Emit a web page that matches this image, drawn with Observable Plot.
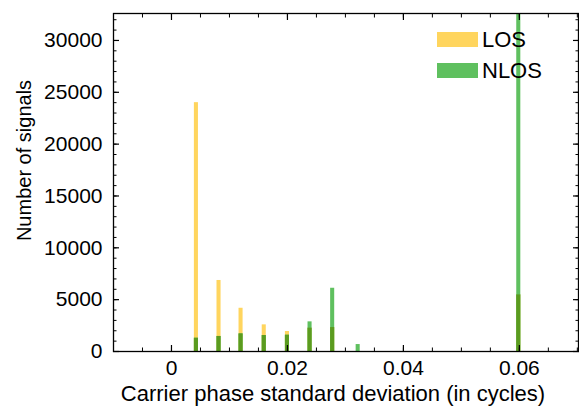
<!DOCTYPE html>
<html>
<head>
<meta charset="utf-8">
<script src="https://cdn.jsdelivr.net/npm/d3@7"></script>
<script src="https://cdn.jsdelivr.net/npm/@observablehq/plot@0.6"></script>
<style>
  html, body { margin: 0; padding: 0; background: #fff; }
  #wrap { position: relative; width: 579px; height: 407px; font-family: "Liberation Sans", Arial, sans-serif; }
  #legend { position: absolute; left: 437px; top: 24px; }
  .item { display: flex; align-items: center; height: 31px; font-size: 22px; color: #000; }
  .sw { width: 41px; height: 15px; margin-right: 4px; }
</style>
</head>
<body>
<div id="wrap"></div>
<script>
// Bin centres (cycles) and counts per series
const binCenters = [0.0043, 0.0082, 0.0120, 0.0160, 0.0200, 0.0239, 0.0278, 0.0322, 0.0599];
const losCounts  = [24000, 6850, 4170, 2570, 1930, 2250, 2310, 0, 5460];
const nlosCounts = [1280, 1450, 1700, 1540, 1570, 2860, 6100, 670, 40000];

const seriesNames  = ["LOS", "NLOS"];
const seriesColors = ["#FFD55E", "#5FC05F"];
const overlapColor = "#5B9B1F";

const xMajorTicks = [0, 0.02, 0.04, 0.06];
const xMinorTicks = d3.range(-0.01, 0.0701, 0.005).map(v => +v.toFixed(3));
const yMajorTicks = [0, 5000, 10000, 15000, 20000, 25000, 30000];
const yMinorTicks = d3.range(0, 32001, 1000);

const xDomain = [-0.01, 0.0702];
const yDomain = [0, 32600];
const halfW = 0.00035;

const losData  = binCenters.map((x, i) => ({x, n: losCounts[i]}));
const nlosData = binCenters.map((x, i) => ({x, n: nlosCounts[i]}));
const bothData = binCenters.map((x, i) => ({x, n: Math.min(losCounts[i], nlosCounts[i])}));

const font = '"Liberation Sans", Arial, sans-serif';

const chart = Plot.plot({
  width: 579,
  height: 407,
  marginLeft: 113,
  marginRight: 1,
  marginTop: 13,
  marginBottom: 56,
  style: {fontFamily: font, fontSize: "21px", background: "#fff", color: "#000"},
  x: {domain: xDomain},
  y: {domain: yDomain},
  marks: [
    Plot.rectY(losData, {x1: d => d.x - halfW, x2: d => d.x + halfW, y1: 0, y2: "n", fill: seriesColors[0], clip: true}),
    Plot.rectY(nlosData, {x1: d => d.x - halfW, x2: d => d.x + halfW, y1: 0, y2: "n", fill: seriesColors[1], clip: true}),
    Plot.rectY(bothData, {x1: d => d.x - halfW, x2: d => d.x + halfW, y1: 0, y2: "n", fill: overlapColor, clip: true}),
    // tick labels
    Plot.axisX({anchor: "bottom", ticks: xMajorTicks, tickSize: 0, tickPadding: 9, tickFormat: d3.format("~g"), label: null, fontSize: 21}),
    Plot.axisY({anchor: "left", ticks: yMajorTicks, tickSize: 0, tickPadding: 11, tickFormat: d3.format("d"), label: null, fontSize: 21}),
    // inward ticks, four sides
    Plot.axisX({anchor: "bottom", ticks: xMajorTicks, tickSize: -6, fill: "none", label: null, strokeWidth: 1.2}),
    Plot.axisX({anchor: "bottom", ticks: xMinorTicks, tickSize: -3.5, fill: "none", label: null, strokeWidth: 1}),
    Plot.axisX({anchor: "top", ticks: xMajorTicks, tickSize: -6, fill: "none", label: null, strokeWidth: 1.2}),
    Plot.axisX({anchor: "top", ticks: xMinorTicks, tickSize: -3.5, fill: "none", label: null, strokeWidth: 1}),
    Plot.axisY({anchor: "left", ticks: yMajorTicks, tickSize: -6, fill: "none", label: null, strokeWidth: 1.2}),
    Plot.axisY({anchor: "left", ticks: yMinorTicks, tickSize: -3.5, fill: "none", label: null, strokeWidth: 1}),
    Plot.axisY({anchor: "right", ticks: yMajorTicks, tickSize: -6, fill: "none", label: null, strokeWidth: 1.2}),
    Plot.axisY({anchor: "right", ticks: yMinorTicks, tickSize: -3.5, fill: "none", label: null, strokeWidth: 1}),
    Plot.frame({stroke: "#000", strokeWidth: 1.3}),
    // axis titles
    Plot.text(["Carrier phase standard deviation (in cycles)"], {frameAnchor: "bottom", lineAnchor: "middle", textAnchor: "middle", dy: 42, dx: -13, fontSize: 22, fill: "#000"}),
    Plot.text(["Number of signals"], {frameAnchor: "left", textAnchor: "middle", lineAnchor: "middle", rotate: -90, dx: -89, dy: -22, fontSize: 20, fill: "#000"})
  ]
});

const wrap = document.getElementById("wrap");
wrap.appendChild(chart);

const legend = document.createElement("div");
legend.id = "legend";
seriesNames.forEach((name, i) => {
  const item = document.createElement("div");
  item.className = "item";
  const sw = document.createElement("div");
  sw.className = "sw";
  sw.style.background = seriesColors[i];
  const lab = document.createElement("span");
  lab.textContent = name;
  item.appendChild(sw);
  item.appendChild(lab);
  legend.appendChild(item);
});
wrap.appendChild(legend);
</script>
</body>
</html>
